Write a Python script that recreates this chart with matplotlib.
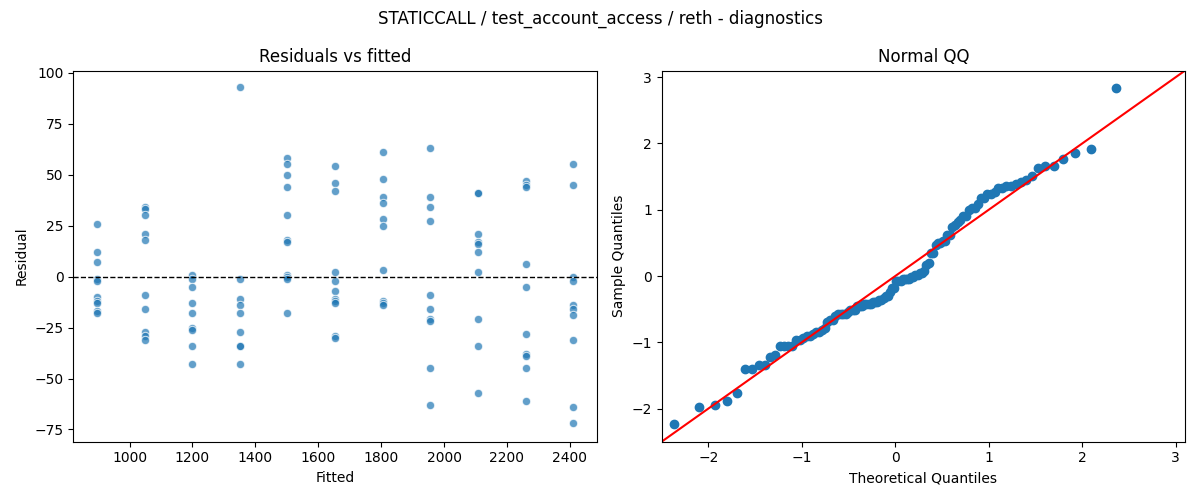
import matplotlib
matplotlib.use('Agg')
import matplotlib.pyplot as plt
import numpy as np
from statistics import NormalDist

# fitted level -> residuals
fitted_levels = [897, 1048, 1200, 1350, 1502, 1653, 1805, 1956, 2107, 2259, 2410]
residuals = [
    [26, 12, 7, -1, -2, -10, -12, -13, -17, -18],
    [34, 33, 30, 21, 18, -9, -16, -27, -29, -31],
    [1, -1, -5, -13, -18, -25, -26, -34, -43],
    [93, -1, -11, -14, -18, -27, -34, -34, -43],
    [58, 55, 50, 44, 30, 18, 17, 1, 0, -1, -18],
    [54, 46, 42, 2, -2, -7, -11, -12, -13, -29, -30],
    [61, 48, 39, 36, 28, 25, 3, -12, -13, -14],
    [63, 39, 34, 27, -9, -16, -21, -22, -45, -63],
    [41, 41, 21, 17, 16, 12, 2, -21, -34, -57],
    [47, 45, 44, 6, -5, -28, -38, -39, -45, -61],
    [55, 45, 0, -2, -14, -16, -19, -31, -64, -72],
]

fx = np.concatenate([[f] * len(r) for f, r in zip(fitted_levels, residuals)])
ry = np.concatenate([np.array(r, dtype=float) for r in residuals])

fig, (ax1, ax2) = plt.subplots(1, 2, figsize=(12, 5), dpi=100)

ax1.scatter(fx, ry, s=36, color='#1f77b4', alpha=0.7, edgecolors='white', linewidths=0.8)
ax1.axhline(0, color='black', linestyle='--', linewidth=1)
ax1.set_title('Residuals vs fitted')
ax1.set_xlabel('Fitted')
ax1.set_ylabel('Residual')
ax1.set_ylim(-81, 101)

# normal QQ of standardized residuals
z = np.sort((ry - ry.mean()) / ry.std(ddof=1))
n = len(z)
theo = np.array([NormalDist().inv_cdf(i / (n + 1)) for i in range(1, n + 1)])
ax2.plot(theo, z, 'o', color='#1f77b4', markersize=6)
ax2.axline((0, 0), slope=1, color='red', linewidth=1.5)
ax2.set_xlim(-2.5, 3.1)
ax2.set_ylim(-2.5, 3.1)
ax2.set_title('Normal QQ')
ax2.set_xlabel('Theoretical Quantiles')
ax2.set_ylabel('Sample Quantiles')

fig.suptitle('STATICCALL / test_account_access / reth - diagnostics')
plt.tight_layout()
plt.savefig('out.png')
